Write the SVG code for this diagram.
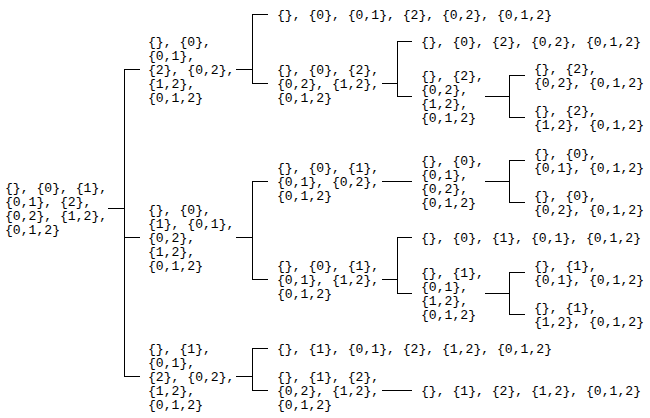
<svg xmlns="http://www.w3.org/2000/svg" width="650" height="418" viewBox="0 0 650 418">
<style>
text{font-family:"Liberation Mono","DejaVu Sans Mono",monospace;font-size:13.1px;fill:#000}
.c path{fill:none;stroke:#000;stroke-width:1}
</style>
<rect width="650" height="418" fill="#fff"/>
<g class="c" id="connectors">
<path d="M108 208.5H124.5M124.5 69V377M124 69.5H140M124 237.5H140M124 376.5H140"/>
<path d="M236 69.5H252.5M252.5 14V84M252 14.5H268M252 83.5H268"/>
<path d="M382 83.5H397.5M397.5 41V97M397 41.5H412M397 96.5H412"/>
<path d="M485 96.5H509.5M509.5 75V118M509 75.5H525M509 117.5H525"/>
<path d="M236 237.5H252.5M252.5 181V280M252 181.5H268M252 279.5H268"/>
<path d="M382 181.5H412"/>
<path d="M485 181.5H509.5M509.5 160V203M509 160.5H525M509 202.5H525"/>
<path d="M382 279.5H397.5M397.5 237V294M397 237.5H412M397 293.5H412"/>
<path d="M485 293.5H509.5M509.5 272V315M509 272.5H525M509 314.5H525"/>
<path d="M236 376.5H252.5M252.5 348V391M252 348.5H268M252 390.5H268"/>
<path d="M382 390.5H412"/>
</g>
<g id="root"><text x="5" y="191.5"><tspan x="5">{}, {0}, {1},</tspan><tspan x="5" dy="14">{0,1}, {2},</tspan><tspan x="5" dy="14">{0,2}, {1,2},</tspan><tspan x="5" dy="14">{0,1,2}</tspan></text></g>
<g id="a"><text x="148" y="45.5"><tspan x="148">{}, {0},</tspan><tspan x="148" dy="14">{0,1},</tspan><tspan x="148" dy="14">{2}, {0,2},</tspan><tspan x="148" dy="14">{1,2},</tspan><tspan x="148" dy="14">{0,1,2}</tspan></text></g>
<g id="b"><text x="148" y="213.5"><tspan x="148">{}, {0},</tspan><tspan x="148" dy="14">{1}, {0,1},</tspan><tspan x="148" dy="14">{0,2},</tspan><tspan x="148" dy="14">{1,2},</tspan><tspan x="148" dy="14">{0,1,2}</tspan></text></g>
<g id="c"><text x="148" y="352.5"><tspan x="148">{}, {1},</tspan><tspan x="148" dy="14">{0,1},</tspan><tspan x="148" dy="14">{2}, {0,2},</tspan><tspan x="148" dy="14">{1,2},</tspan><tspan x="148" dy="14">{0,1,2}</tspan></text></g>
<g id="a1"><text x="277" y="18.5">{}, {0}, {0,1}, {2}, {0,2}, {0,1,2}</text></g>
<g id="a2"><text x="277" y="73.5"><tspan x="277">{}, {0}, {2},</tspan><tspan x="277" dy="14">{0,2}, {1,2},</tspan><tspan x="277" dy="14">{0,1,2}</tspan></text></g>
<g id="a2a"><text x="421" y="45.5">{}, {0}, {2}, {0,2}, {0,1,2}</text></g>
<g id="a2b"><text x="421" y="79.5"><tspan x="421">{}, {2},</tspan><tspan x="421" dy="14">{0,2},</tspan><tspan x="421" dy="14">{1,2},</tspan><tspan x="421" dy="14">{0,1,2}</tspan></text></g>
<g id="a2b1"><text x="534" y="72.5"><tspan x="534">{}, {2},</tspan><tspan x="534" dy="14">{0,2}, {0,1,2}</tspan></text></g>
<g id="a2b2"><text x="534" y="114.5"><tspan x="534">{}, {2},</tspan><tspan x="534" dy="14">{1,2}, {0,1,2}</tspan></text></g>
<g id="b1"><text x="277" y="171.5"><tspan x="277">{}, {0}, {1},</tspan><tspan x="277" dy="14">{0,1}, {0,2},</tspan><tspan x="277" dy="14">{0,1,2}</tspan></text></g>
<g id="b1a"><text x="421" y="164.5"><tspan x="421">{}, {0},</tspan><tspan x="421" dy="14">{0,1},</tspan><tspan x="421" dy="14">{0,2},</tspan><tspan x="421" dy="14">{0,1,2}</tspan></text></g>
<g id="b1a1"><text x="534" y="157.5"><tspan x="534">{}, {0},</tspan><tspan x="534" dy="14">{0,1}, {0,1,2}</tspan></text></g>
<g id="b1a2"><text x="534" y="199.5"><tspan x="534">{}, {0},</tspan><tspan x="534" dy="14">{0,2}, {0,1,2}</tspan></text></g>
<g id="b2"><text x="277" y="269.5"><tspan x="277">{}, {0}, {1},</tspan><tspan x="277" dy="14">{0,1}, {1,2},</tspan><tspan x="277" dy="14">{0,1,2}</tspan></text></g>
<g id="b2a"><text x="421" y="241.5">{}, {0}, {1}, {0,1}, {0,1,2}</text></g>
<g id="b2b"><text x="421" y="276.5"><tspan x="421">{}, {1},</tspan><tspan x="421" dy="14">{0,1},</tspan><tspan x="421" dy="14">{1,2},</tspan><tspan x="421" dy="14">{0,1,2}</tspan></text></g>
<g id="b2b1"><text x="534" y="269.5"><tspan x="534">{}, {1},</tspan><tspan x="534" dy="14">{0,1}, {0,1,2}</tspan></text></g>
<g id="b2b2"><text x="534" y="311.5"><tspan x="534">{}, {1},</tspan><tspan x="534" dy="14">{1,2}, {0,1,2}</tspan></text></g>
<g id="c1"><text x="277" y="352.5">{}, {1}, {0,1}, {2}, {1,2}, {0,1,2}</text></g>
<g id="c2"><text x="277" y="380.5"><tspan x="277">{}, {1}, {2},</tspan><tspan x="277" dy="14">{0,2}, {1,2},</tspan><tspan x="277" dy="14">{0,1,2}</tspan></text></g>
<g id="c2a"><text x="421" y="394.5">{}, {1}, {2}, {1,2}, {0,1,2}</text></g>
</svg>
